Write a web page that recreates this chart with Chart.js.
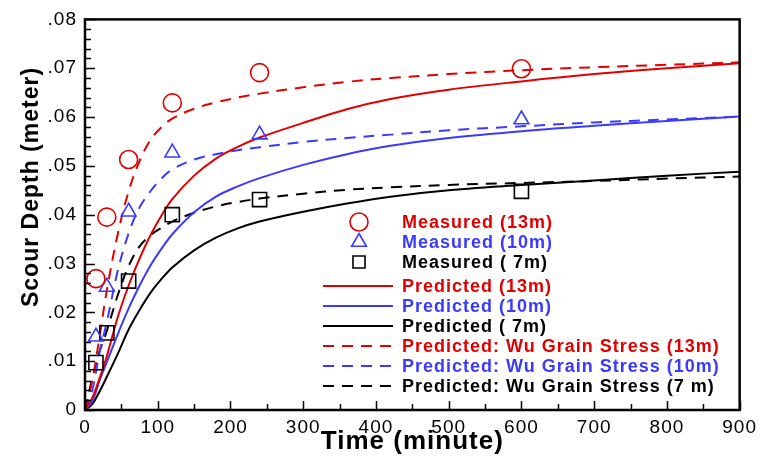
<!DOCTYPE html>
<html>
<head>
<meta charset="utf-8">
<script src="https://cdn.jsdelivr.net/npm/chart.js@4.4.1/dist/chart.umd.min.js"></script>
<style>
  html, body { margin: 0; padding: 0; background: #fff; }
  #wrap { width: 763px; height: 463px; }
</style>
</head>
<body>
<div id="wrap"><canvas id="scour"></canvas></div>
<script>
// ---- data ----
const timeMeasured = [15, 30, 60, 120, 240, 600];
const measured13 = [0.0269, 0.0395, 0.0513, 0.0629, 0.0691, 0.0699];
const measured10 = [0.0150, 0.0252, 0.0406, 0.0527, 0.0564, 0.0595];
const measured7  = [0.0097, 0.0158, 0.0264, 0.0400, 0.0431, 0.0448];

const timeModel = [0, 10, 20, 30, 45, 60, 75, 90, 105, 120, 150, 180, 210, 240, 300, 360, 420, 500, 600, 700, 800, 900];
const predicted13 = [0, 0.0025, 0.0065, 0.0110, 0.0190, 0.0255, 0.0310, 0.0358, 0.0398, 0.0432, 0.0480, 0.0515, 0.0539, 0.0558, 0.0588, 0.0616, 0.0637, 0.0656, 0.0673, 0.0688, 0.0700, 0.0710];
const predicted10 = [0, 0.0018, 0.0060, 0.0098, 0.0155, 0.0208, 0.0255, 0.0296, 0.0330, 0.0360, 0.0405, 0.0437, 0.0458, 0.0475, 0.0502, 0.0524, 0.0541, 0.0557, 0.0571, 0.0582, 0.0592, 0.0601];
const predicted7  = [0, 0.0012, 0.0038, 0.0068, 0.0115, 0.0165, 0.0205, 0.0240, 0.0268, 0.0292, 0.0327, 0.0353, 0.0372, 0.0386, 0.0406, 0.0423, 0.0437, 0.0450, 0.0461, 0.0470, 0.0480, 0.0488];
const wu13 = [0, 0.0060, 0.0150, 0.0245, 0.0360, 0.0448, 0.0510, 0.0553, 0.0579, 0.0597, 0.0617, 0.0630, 0.0640, 0.0648, 0.0661, 0.0672, 0.0680, 0.0688, 0.0696, 0.0702, 0.0707, 0.0712];
const wu10 = [0, 0.0040, 0.0118, 0.0180, 0.0285, 0.0362, 0.0415, 0.0448, 0.0474, 0.0493, 0.0513, 0.0524, 0.0532, 0.0538, 0.0549, 0.0557, 0.0564, 0.0573, 0.0581, 0.0589, 0.0595, 0.0601];
const wu7  = [0, 0.0065, 0.0120, 0.0162, 0.0235, 0.0295, 0.0335, 0.0358, 0.0373, 0.0386, 0.0404, 0.0417, 0.0426, 0.0433, 0.0443, 0.0451, 0.0456, 0.0461, 0.0465, 0.0469, 0.0474, 0.0478];

const xTicks = [0, 100, 200, 300, 400, 500, 600, 700, 800, 900];
const yTicks = [0, 0.01, 0.02, 0.03, 0.04, 0.05, 0.06, 0.07, 0.08];

const RED = '#e00000';
const BLUE = '#3a3aff';
const BLACK = '#000000';
const DASH = [11, 8];
const FONT = '"Liberation Sans", Arial, sans-serif';

function pairs(xs, ys) {
    return xs.map((x, i) => ({ x: x, y: ys[i] }));
}

function markerSet(label, ys, color, style, radius) {
    return {
        type: 'scatter',
        label: label,
        data: pairs(timeMeasured, ys),
        showLine: false,
        pointStyle: style,
        pointRadius: radius,
        pointBorderColor: color,
        pointBackgroundColor: 'rgba(0,0,0,0)',
        pointBorderWidth: 1.6,
        borderColor: color
    };
}

function curveSet(label, ys, color, dash) {
    return {
        type: 'line',
        label: label,
        data: pairs(timeModel, ys),
        borderColor: color,
        borderWidth: 2,
        borderDash: dash,
        pointRadius: 0,
        tension: 0.35,
        fill: false
    };
}

// letter spacing to get close to the wide plotter lettering
const spacingPlugin = {
    id: 'spacing',
    beforeLayout(chart) { chart.ctx.letterSpacing = '1px'; },
    beforeDraw(chart) { chart.ctx.letterSpacing = '1px'; }
};

// frame, inward tick marks and the vertical axis title
const framePlugin = {
    id: 'frame',
    afterDatasetsDraw(chart) {
        const { ctx, chartArea: a, scales } = chart;
        ctx.save();
        ctx.strokeStyle = '#000';
        ctx.lineWidth = 1.5;
        ctx.beginPath();
        for (let v = 0; v <= 900; v += 50) {
            const px = Math.round(scales.x.getPixelForValue(v)) + 0.5;
            const len = v % 100 === 0 ? 9 : 6;
            ctx.moveTo(px, a.bottom);
            ctx.lineTo(px, a.bottom - len);
        }
        for (let k = 0; k <= 40; k++) {
            const py = Math.round(scales.y.getPixelForValue(k * 0.002)) + 0.5;
            const len = k % 5 === 0 ? 10 : 6;
            ctx.moveTo(a.left, py);
            ctx.lineTo(a.left + len, py);
        }
        ctx.stroke();
        ctx.lineWidth = 2.5;
        ctx.strokeRect(a.left, a.top, a.right - a.left, a.bottom - a.top);

        ctx.translate(32, 187);
        ctx.rotate(-Math.PI / 2);
        ctx.font = 'bold 23px ' + FONT;
        ctx.letterSpacing = '1px';
        ctx.fillStyle = '#000';
        ctx.textAlign = 'center';
        ctx.textBaseline = 'middle';
        ctx.fillText('Scour Depth (meter)', 0, 0);
        ctx.restore();
    }
};

// legend drawn inside the plot, built from the datasets
const legendPlugin = {
    id: 'insideLegend',
    afterDraw(chart) {
        const { ctx, chartArea: a } = chart;
        const rows = [222, 242, 262, 286, 306, 326, 346, 366, 386];
        ctx.save();
        ctx.font = 'bold 18px ' + FONT;
        ctx.letterSpacing = '1px';
        ctx.textBaseline = 'middle';
        chart.data.datasets.forEach((ds, i) => {
            const y = rows[i];
            const color = ds.type === 'scatter' ? ds.pointBorderColor : ds.borderColor;
            if (ds.type === 'scatter') {
                ctx.strokeStyle = color;
                ctx.fillStyle = 'rgba(0,0,0,0)';
                ctx.lineWidth = ds.pointBorderWidth;
                Chart.helpers.drawPoint(ctx, {
                    pointStyle: ds.pointStyle,
                    radius: ds.pointStyle === 'rect' ? 8.5 : ds.pointRadius,
                    borderWidth: ds.pointBorderWidth,
                    rotation: 0
                }, a.left + 274, y);
            } else {
                ctx.strokeStyle = color;
                ctx.lineWidth = ds.borderWidth;
                ctx.setLineDash(ds.borderDash || []);
                ctx.beginPath();
                ctx.moveTo(a.left + 238, y);
                ctx.lineTo(a.left + 308, y);
                ctx.stroke();
                ctx.setLineDash([]);
            }
            ctx.fillStyle = color;
            ctx.fillText(ds.label, a.left + 317, y + 1);
        });
        ctx.restore();
    }
};

const ctx = document.getElementById('scour').getContext('2d');
const chart = new Chart(ctx, {
    data: {
        datasets: [
            markerSet('Measured (13m)', measured13, RED, 'circle', 9),
            markerSet('Measured (10m)', measured10, BLUE, 'triangle', 8.5),
            markerSet('Measured ( 7m)', measured7, BLACK, 'rect', 10),
            curveSet('Predicted (13m)', predicted13, RED, []),
            curveSet('Predicted (10m)', predicted10, BLUE, []),
            curveSet('Predicted ( 7m)', predicted7, BLACK, []),
            curveSet('Predicted: Wu Grain Stress (13m)', wu13, RED, DASH),
            curveSet('Predicted: Wu Grain Stress (10m)', wu10, BLUE, DASH),
            curveSet('Predicted: Wu Grain Stress (7 m)', wu7, BLACK, DASH)
        ]
    },
    options: {
        responsive: true,
        maintainAspectRatio: false,
        animation: false,
        events: [],
        layout: { padding: { top: 19, right: 20, left: 0, bottom: 0 } },
        plugins: {
            legend: { display: false },
            tooltip: { enabled: false }
        },
        scales: {
            x: {
                type: 'linear',
                min: 0,
                max: 900,
                afterBuildTicks(scale) { scale.ticks = xTicks.map(v => ({ value: v })); },
                afterFit(scale) { scale.height = 53; },
                grid: { display: false, drawTicks: false },
                border: { display: false },
                ticks: {
                    color: '#000',
                    padding: 6,
                    maxRotation: 0,
                    font: { family: FONT, size: 19 }
                },
                title: {
                    display: true,
                    text: 'Time (minute)',
                    color: '#000',
                    padding: { top: 0, bottom: 6 },
                    font: { family: FONT, size: 26, weight: 'bold' }
                }
            },
            y: {
                type: 'linear',
                min: 0,
                max: 0.08,
                afterBuildTicks(scale) { scale.ticks = yTicks.map(v => ({ value: v })); },
                afterFit(scale) { scale.width = 85; },
                grid: { display: false, drawTicks: false },
                border: { display: false },
                ticks: {
                    color: '#000',
                    padding: 8,
                    font: { family: FONT, size: 19 },
                    callback: v => v === 0 ? '0' : v.toFixed(2).replace(/^0/, '')
                },
                title: { display: false }
            }
        }
    },
    plugins: [spacingPlugin, framePlugin, legendPlugin]
});
</script>
</body>
</html>
